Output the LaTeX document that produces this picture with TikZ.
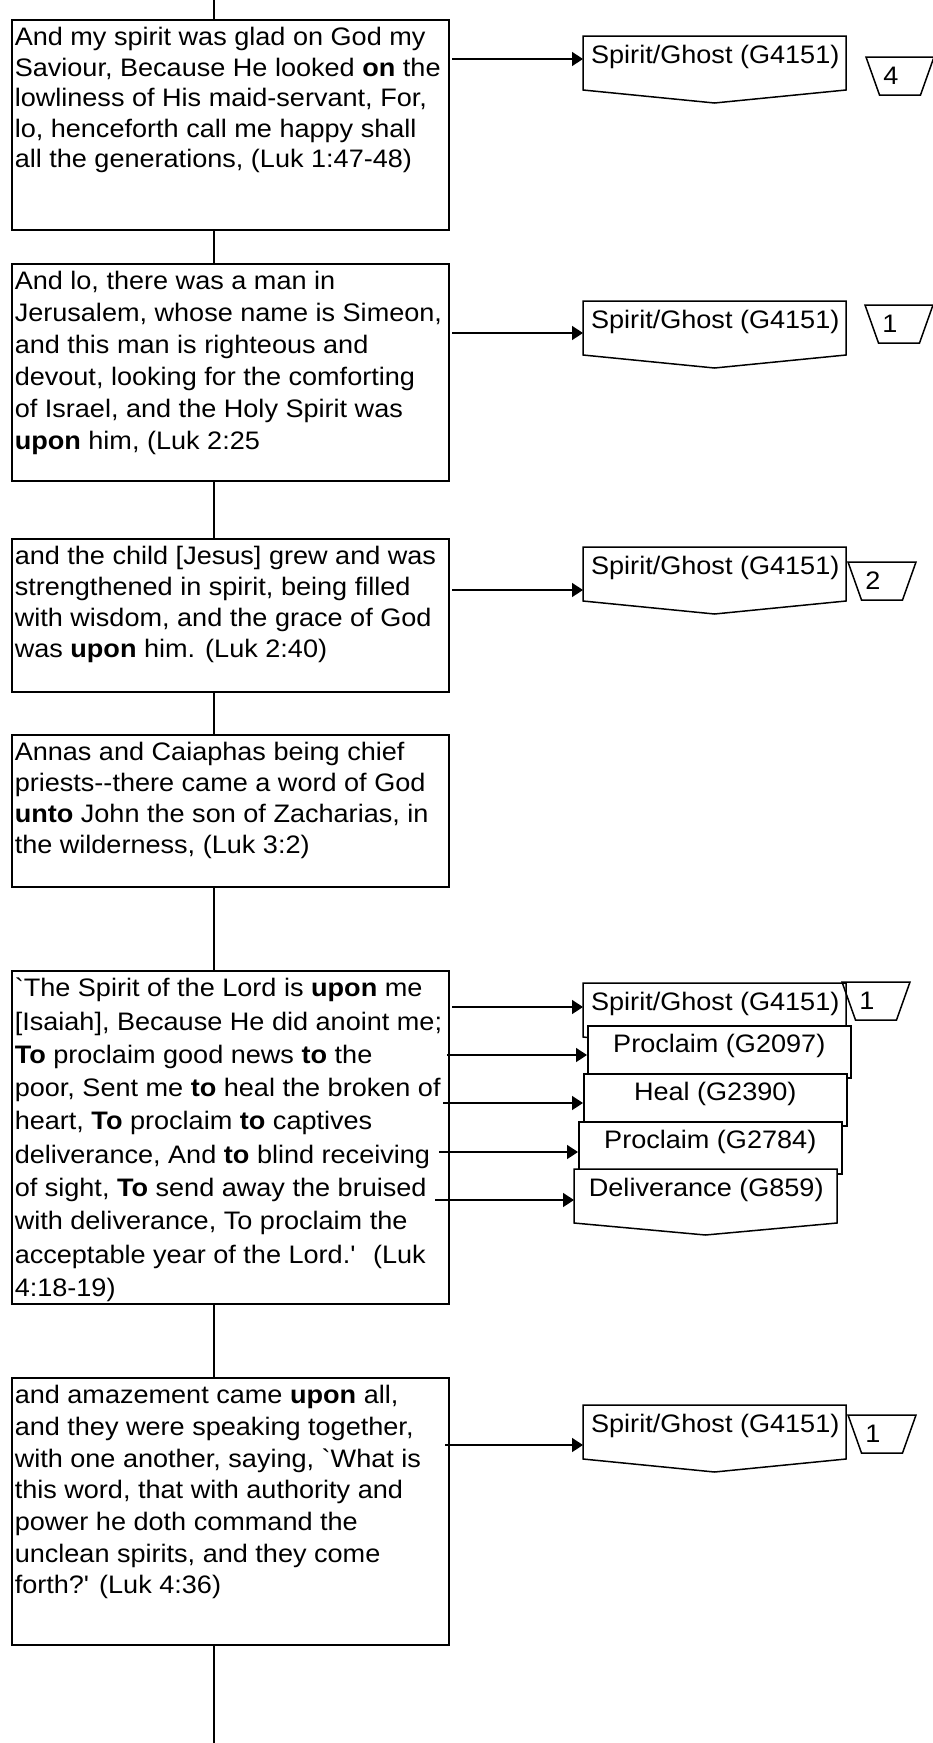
\documentclass[tikz,border=0pt]{standalone}
\usepackage{fontspec}
\newfontfamily\lsans{Liberation Sans}[FakeStretch=1.07]
\usetikzlibrary{arrows.meta,calc}
\newcommand\vtext[3]{\parbox[c][#1][t]{431pt}{\fontsize{25.3pt}{#2}\selectfont\raggedright\rule{0pt}{26pt}#3}}
\newcommand\pentshape[3]{\draw[shp] (#1) -- ++(#2,0) -- ++(0,54) -- ++(-#2/2,#3) -- ++(-#2/2,-#3) -- cycle;}
\newcommand\trapz[1]{\draw (#1) ++(-34,-19) -- ++(68,0) -- ++(-13.5,38) -- ++(-41,0) -- cycle;}
\begin{document}
\begin{tikzpicture}[x=1pt,y=-1pt,line width=1.5pt,
 tx/.style={font=\lsans\fontsize{25.3pt}{31pt}\selectfont},
 versebox/.style={tx,draw,fill=white,anchor=north west,inner xsep=3pt,inner ysep=0pt},
 lbl/.style={tx,anchor=north west,inner sep=0pt,minimum width=263pt,text height=26.7pt,text depth=27.3pt},
 rbox/.style={lbl,draw,fill=white,text depth=25.3pt},
 shp/.style={draw,fill=white},
 num/.style={tx,inner sep=0pt},
 arr/.style={-{Triangle[length=11pt,width=14pt]}}]
\fill[white] (0,0) rectangle (933,1743);
\useasboundingbox (0,0) rectangle (933,1743);
\coordinate (vtop) at (214,0);
\coordinate (vbot) at (214,1743);
% verse boxes
\node[versebox] (b1) at (11,19) {\vtext{210pt}{30.5pt}{And my spirit was glad on God my\\ Saviour, Because He looked \textbf{on} the\\ lowliness of His maid-servant, For,\\ lo, henceforth call me happy shall\\ all the generations, (Luk 1:47-48)}};
\node[versebox] (b2) at (11,263) {\vtext{217pt}{32pt}{And lo, there was a man in\\ Jerusalem, whose name is Simeon,\\ and this man is righteous and\\ devout, looking for the comforting\\ of Israel, and the Holy Spirit was\\ \textbf{upon} him, (Luk 2:25}};
\node[versebox] (b3) at (11,538) {\vtext{153pt}{31pt}{and the child [Jesus] grew and was\\ strengthened in spirit, being filled\\ with wisdom, and the grace of God\\ was \textbf{upon} him. (Luk 2:40)}};
\node[versebox] (b4) at (11,734) {\vtext{152pt}{31pt}{Annas and Caiaphas being chief\\ priests--there came a word of God\\ \textbf{unto} John the son of Zacharias, in\\ the wilderness, (Luk 3:2)}};
\node[versebox] (b5) at (11,970) {\vtext{333pt}{33.3pt}{`The Spirit of the Lord is \textbf{upon} me\\ {[Isaiah]}, Because He did anoint me;\\ \textbf{To} proclaim good news \textbf{to} the\\ poor, Sent me \textbf{to} heal the broken of\\ heart, \textbf{To} proclaim \textbf{to} captives\\ deliverance, And \textbf{to} blind receiving\\ of sight, \textbf{To} send away the bruised\\ with deliverance, To proclaim the\\ acceptable year of the Lord.' \ (Luk\\ 4:18-19)}};
\node[versebox] (b6) at (11,1377) {\vtext{267pt}{31.7pt}{and amazement came \textbf{upon} all,\\ and they were speaking together,\\ with one another, saying, `What is\\ this word, that with authority and\\ power he doth command the\\ unclean spirits, and they come\\ forth?' (Luk 4:36)}};
% spine
\draw (vtop) -- (vtop |- b1.north);
\draw (vtop |- b1.south) -- (vtop |- b2.north);
\draw (vtop |- b2.south) -- (vtop |- b3.north);
\draw (vtop |- b3.south) -- (vtop |- b4.north);
\draw (vtop |- b4.south) -- (vtop |- b5.north);
\draw (vtop |- b5.south) -- (vtop |- b6.north);
\draw (vtop |- b6.south) -- (vbot);
% row 1
\coordinate (s1c) at (583,36);
\pentshape{s1c}{263}{13}
\node[lbl] (s1) at (s1c) {Spirit/Ghost (G4151)};
\coordinate (q1) at (900,76);
\trapz{q1}
\node[num] (t1) at ([xshift=-9pt]q1) {4};
\coordinate (a1) at (452,59);
\draw[arr] (a1) -- (a1 -| s1.west);
% row 2
\coordinate (s2c) at (583,301);
\pentshape{s2c}{263}{13}
\node[lbl] (s2) at (s2c) {Spirit/Ghost (G4151)};
\coordinate (q2) at (899,324);
\trapz{q2}
\node[num] (t2) at ([xshift=-9pt]q2) {1};
\coordinate (a2) at (452,333);
\draw[arr] (a2) -- (a2 -| s2.west);
% row 3
\coordinate (s3c) at (583,547);
\pentshape{s3c}{263}{13}
\node[lbl] (s3) at (s3c) {Spirit/Ghost (G4151)};
\coordinate (q3) at (882,581);
\trapz{q3}
\node[num] (t3) at ([xshift=-9pt]q3) {2};
\coordinate (a3) at (452,590);
\draw[arr] (a3) -- (a3 -| s3.west);
% row 5
\coordinate (s5c) at (583,983);
\pentshape{s5c}{263}{13}
\node[lbl] (s5) at (s5c) {Spirit/Ghost (G4151)};
\coordinate (q5) at (876,1001);
\trapz{q5}
\node[num] (t5) at ([xshift=-9pt]q5) {1};
\node[rbox] (p1) at (587,1025) {Proclaim (G2097)};
\node[rbox] (h1) at (583,1073) {Heal (G2390)};
\node[rbox] (p2) at (578,1121) {Proclaim (G2784)};
\coordinate (d1c) at (574,1169);
\pentshape{d1c}{263}{12}
\node[lbl] (d1) at (d1c) {Deliverance (G859)};
\coordinate (a5) at (452,1007);
\coordinate (a6) at (447,1055);
\coordinate (a7) at (443,1103);
\coordinate (a8) at (439,1152);
\coordinate (a9) at (435,1200);
\draw[arr] (a5) -- (a5 -| s5.west);
\draw[arr] (a6) -- (a6 -| p1.west);
\draw[arr] (a7) -- (a7 -| h1.west);
\draw[arr] (a8) -- (a8 -| p2.west);
\draw[arr] (a9) -- (a9 -| d1.west);
% row 6
\coordinate (s6c) at (583,1405);
\pentshape{s6c}{263}{13}
\node[lbl] (s6) at (s6c) {Spirit/Ghost (G4151)};
\coordinate (q6) at (882,1434);
\trapz{q6}
\node[num] (t6) at ([xshift=-9pt]q6) {1};
\coordinate (a10) at (445,1445);
\draw[arr] (a10) -- (a10 -| s6.west);
\end{tikzpicture}
\end{document}
